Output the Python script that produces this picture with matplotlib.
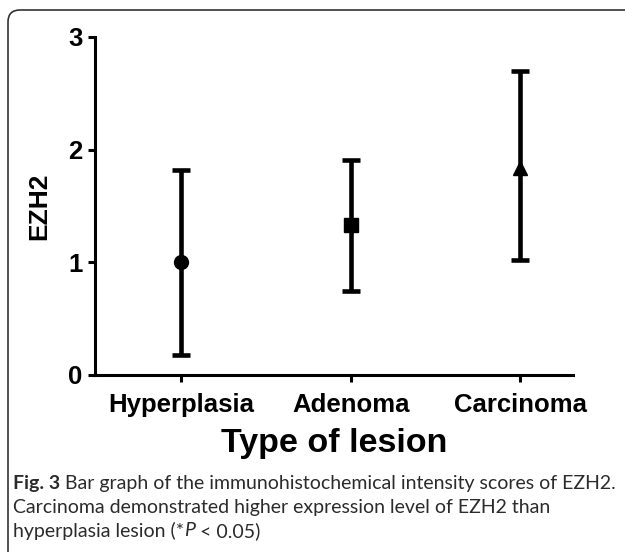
"""EZH2 immunohistochemical intensity scores by lesion type."""
import matplotlib
matplotlib.use("Agg")
import matplotlib.pyplot as plt
from matplotlib.patches import FancyBboxPatch
from matplotlib.transforms import IdentityTransform, offset_copy

# Data
lesions = ["Hyperplasia", "Adenoma", "Carcinoma"]
means = [1.00, 1.33, 1.84]
lower = [0.18, 0.75, 1.02]
upper = [1.82, 1.91, 2.70]
markers = ["o", "s", "^"]
y_ticks = [0, 1, 2, 3]

plt.rcParams.update({
    "font.family": "sans-serif",
    "font.sans-serif": ["Liberation Sans", "DejaVu Sans"],
    "font.weight": "bold",
})

fig = plt.figure(figsize=(6.25, 5.52), dpi=100)
ax = fig.add_axes([95 / 625, 177 / 552, (573 - 95) / 625, (375 - 37) / 552])

x = list(range(len(lesions)))
for i in x:
    ax.errorbar(
        i, means[i],
        yerr=[[means[i] - lower[i]], [upper[i] - means[i]]],
        fmt=markers[i], color="black", markersize=10,
        elinewidth=3.3, capsize=6.5, capthick=3.3,
    )

ax.set_xlim(-0.51, 2.31)
ax.set_ylim(0, 3)
ax.set_xticks(x)
ax.set_xticklabels(lesions, fontsize=18.5, fontweight="bold")
ax.set_yticks(y_ticks)
ax.set_yticklabels([str(t) for t in y_ticks], fontsize=18.5, fontweight="bold")
ax.tick_params(axis="both", direction="out", length=5, width=2.2, colors="black")
ax.tick_params(axis="x", pad=8)
ax.tick_params(axis="y", pad=4)
ax.spines["top"].set_visible(False)
ax.spines["right"].set_visible(False)
for side in ["left", "bottom"]:
    ax.spines[side].set_linewidth(2.2)
ax.set_ylabel("EZH2", fontsize=19, fontweight="bold", labelpad=12)
ax.set_xlabel("Type of lesion", fontsize=24.5, fontweight="bold", labelpad=8)

# Rounded frame around the figure (cut off on the right and bottom)
frame = FancyBboxPatch(
    (8, -30), 660, 552 - 10 + 30,
    boxstyle="round,pad=0,rounding_size=12",
    transform=IdentityTransform(), fill=False,
    edgecolor="#333333", linewidth=1.2,
)
fig.patches.append(frame)

# Caption, written piece by piece so bold / italic parts line up
cap_font = ["Lato", "DejaVu Sans"]
cap_color = "#2b2b2b"
cap_size = 14
renderer = fig.canvas.get_renderer()


def caption_line(y_px, pieces):
    trans = fig.transFigure
    for text, weight, style in pieces:
        t = fig.text(13 / 625, 1 - y_px / 552, text, fontsize=cap_size,
                     fontweight=weight, fontstyle=style, family=cap_font,
                     va="center", color=cap_color, transform=trans)
        w = t.get_window_extent(renderer=renderer).width
        trans = offset_copy(trans, fig=fig, x=w * 72 / fig.dpi, units="points")


caption_line(483, [("Fig. 3 ", "bold", "normal"),
                   ("Bar graph of the immunohistochemical intensity scores of EZH2.",
                    "normal", "normal")])
caption_line(507, [("Carcinoma demonstrated higher expression level of EZH2 than",
                    "normal", "normal")])
caption_line(531, [("hyperplasia lesion (*", "normal", "normal"),
                   ("P", "normal", "italic"),
                   (" < 0.05)", "normal", "normal")])

fig.savefig("out.png", dpi=100)
